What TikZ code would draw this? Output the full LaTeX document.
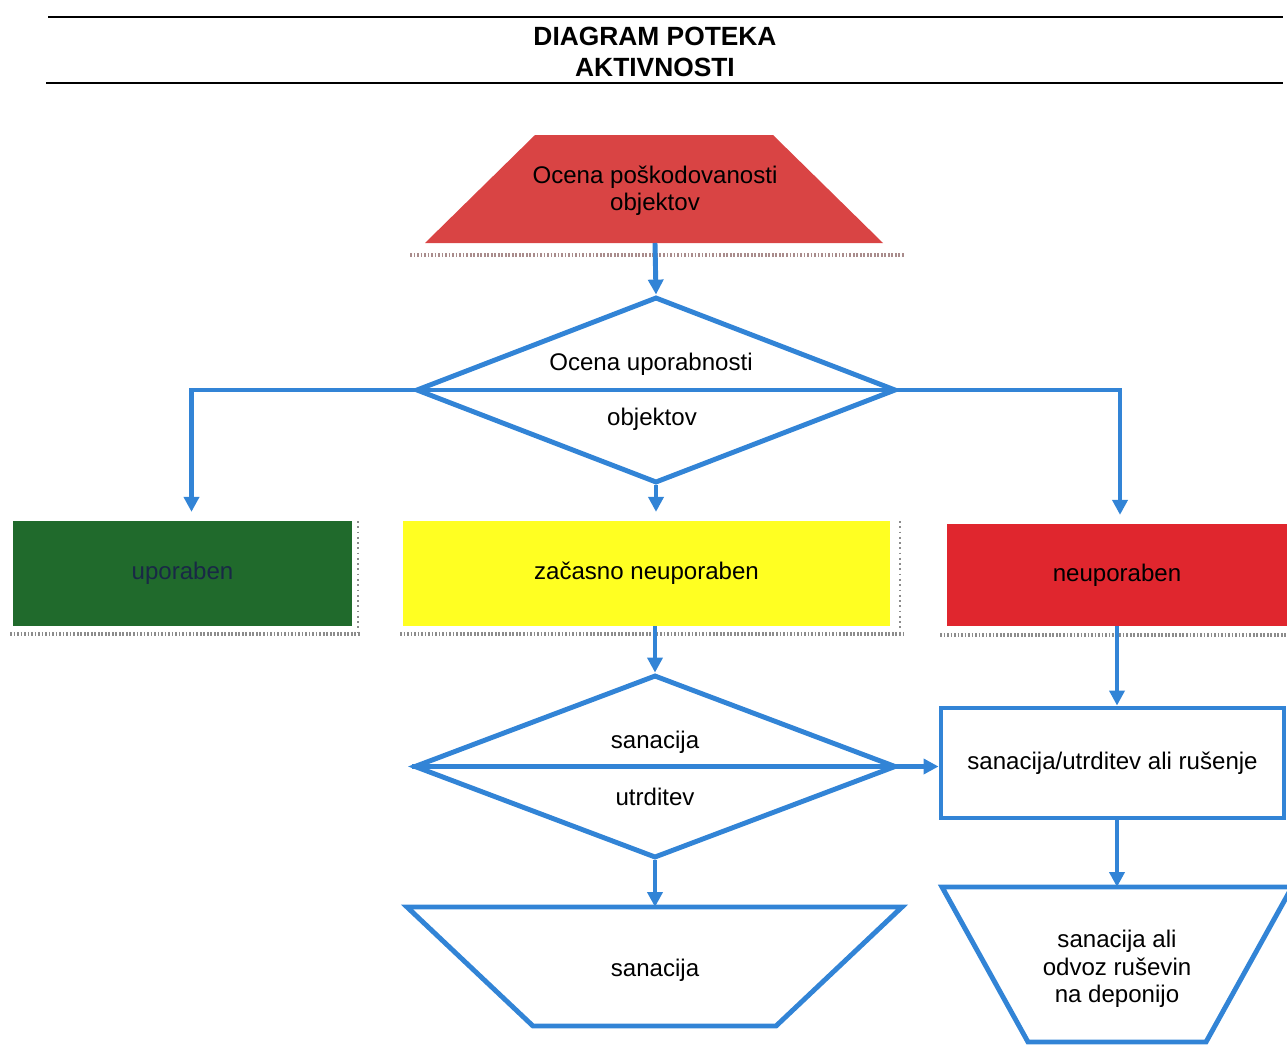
\documentclass[tikz,border=0pt]{standalone}
\usepackage{fontspec}
\setmainfont{Liberation Sans}
\usetikzlibrary{shapes.geometric,arrows.meta}
\definecolor{flowblue}{RGB}{50,132,214}
\definecolor{topred}{RGB}{217,68,68}
\definecolor{boxred}{RGB}{224,38,46}
\definecolor{boxgreen}{RGB}{32,106,44}
\definecolor{boxyellow}{RGB}{255,255,34}
\definecolor{navytext}{RGB}{25,40,70}
\def\px{0.02cm}
\tikzset{
  flow/.style = {draw=flowblue, line width=2.8pt,
                 -{Triangle[length=8.5pt,width=8.5pt]}},
  blueline/.style = {draw=flowblue, line width=2.8pt, line join=miter},
  hatch/.style = {draw=#1, line width=2.5pt, dash pattern=on 1pt off 1pt},
  hatch/.default = black!45,
  txt/.style = {font=\fontsize{13.7}{15.6}\selectfont, align=center, inner sep=0pt}
}

\begin{document}
\begin{tikzpicture}[x=0.02cm, y=-0.02cm]
	\useasboundingbox (0,0) rectangle (1287,1045);

	% Title
	\draw[line width=1.1pt] (48,17) -- (1283,17);
	\draw[line width=1.1pt] (46,83) -- (1283,83);
	\node[font=\bfseries\fontsize{15}{18.1}\selectfont, align=center] (title) at (655,52) {DIAGRAM POTEKA\\AKTIVNOSTI};

	% Start
	\fill[topred] (425,243) -- (535,135) -- (773,135) -- (883,243) -- cycle;
	\node[txt] (start) at (655,191) {Ocena poškodovanosti\\objektov};
	\coordinate (startout) at (655,243);
	\draw[hatch=red!25!black!45] (410,255) -- (905,255);

	% Decision 1
	\node[diamond, draw=flowblue, line width=2.8pt, minimum width=480*\px, minimum height=186*\px, inner sep=0pt] (dec1) at (656,390) {};
	\node[txt] (dec1up) at (651,364) {Ocena uporabnosti};
	\node[txt] (dec1lo) at (652,419) {objektov};

	% States
	\node[fill=boxgreen, minimum width=339*\px, minimum height=105*\px, txt, text=navytext] (upo) at (182.5,573.5) {uporaben};
	\node[fill=boxyellow, minimum width=487*\px, minimum height=105*\px, txt] (zac) at (646.5,573.5) {začasno neuporaben};
	\node[fill=boxred, minimum width=340*\px, minimum height=102*\px, txt] (neu) at (1117,575) {neuporaben};
	\draw[hatch] (10,634) -- (360,634);
	\draw[hatch] (400,634) -- (903,634);
	\draw[hatch] (940,635) -- (1287,635);
	\draw[black!45, dotted, line width=1pt] (358,521) -- (358,634);
	\draw[black!45, dotted, line width=1pt] (900,521) -- (900,634);

	% Decision 2
	\node[diamond, draw=flowblue, line width=2.8pt, minimum width=482*\px, minimum height=183*\px, inner sep=0pt] (dec2) at (655,766.5) {};
	\node[txt] (dec2up) at (655,742) {sanacija};
	\node[txt] (dec2lo) at (655,797) {utrditev};

	% Right column
	\node[draw=flowblue, line width=2.8pt, minimum width=343*\px, minimum height=110*\px, txt] (rus) at (1112.5,763) {sanacija/utrditev ali rušenje};
	\draw[blueline] (942,887) -- (1292,887) -- (1206,1042) -- (1028,1042) -- cycle;
	\node[txt] (odv) at (1117,969) {sanacija ali\\odvoz ruševin\\na deponijo};
	\coordinate (odvin) at (1117,887);

	% End
	\draw[blueline] (407,907) -- (902,907) -- (776,1026) -- (533,1026) -- cycle;
	\node[txt] (san) at (655,970) {sanacija};
	\coordinate (sanin) at (655,907);

	% Connectors
	\draw[flow] (startout) -- (dec1.north);
	\draw[blueline] (dec1.west) -- (dec1.east);
	\draw[flow, shorten >=5pt] (dec1.west) -| ([xshift=9*\px]upo.north);
	\draw[flow, shorten >=5pt] (dec1.east) -| ([xshift=3*\px]neu.north);
	\draw[flow, shorten >=5pt] (dec1.south) -- (dec1.south |- zac.north);
	\draw[flow] (zac.south -| dec2.north) -- (dec2.north);
	\draw[flow] (dec2.west) -- (dec2.west -| rus.west);
	\draw[flow] (neu.south) -- (neu.south |- rus.north);
	\draw[flow] (odvin |- rus.south) -- (odvin);
	\draw[flow] (dec2.south) -- (sanin);
\end{tikzpicture}
\end{document}
